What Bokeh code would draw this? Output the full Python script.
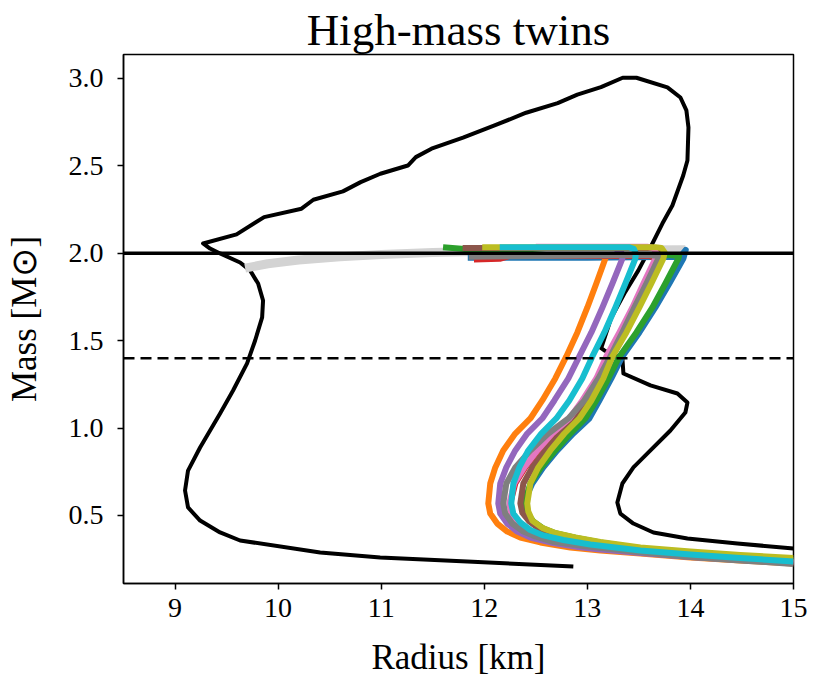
from bokeh.plotting import figure
from bokeh.models import Span, Range1d, FixedTicker, PrintfTickFormatter
from bokeh.embed import file_html
from bokeh.resources import INLINE

# ---------------- data ----------------
x_ticks = [9, 10, 11, 12, 13, 14, 15]
y_ticks = [0.5, 1.0, 1.5, 2.0, 2.5, 3.0]
ref_masses = [2.0, 1.4]

contour_r = [12.864, 11.835, 10.990, 10.408, 9.631, 9.437, 9.243, 9.126, 9.097, 9.126,
             9.243, 9.340, 9.437, 9.563, 9.699, 9.777, 9.845, 9.854, 9.806, 9.728,
             9.631, 9.437, 9.340, 9.272, 9.597, 9.864, 10.227, 10.342, 10.629, 10.801,
             10.992, 11.259, 11.336, 11.488, 11.794, 12.100, 12.406, 12.712, 12.903, 13.132,
             13.343, 13.476, 13.777, 13.903, 13.961, 13.981, 13.971, 13.930, 13.825, 13.728,
             13.612, 13.495, 13.359, 13.233, 13.136, 13.097, 13.165, 13.340, 13.350, 13.612,
             13.874, 13.971, 13.951, 13.806, 13.583, 13.447, 13.340, 13.291, 13.320, 13.447,
             13.641, 13.971, 14.456, 15.0]
contour_m = [0.208, 0.237, 0.260, 0.288, 0.357, 0.403, 0.471, 0.546, 0.643, 0.757,
             0.889, 0.986, 1.083, 1.215, 1.370, 1.501, 1.633, 1.730, 1.827, 1.902,
             1.947, 1.999, 2.027, 2.056, 2.108, 2.207, 2.255, 2.306, 2.354, 2.407,
             2.455, 2.502, 2.550, 2.598, 2.661, 2.731, 2.804, 2.859, 2.907, 2.950,
             3.004, 3.004, 2.949, 2.891, 2.817, 2.720, 2.531, 2.445, 2.273, 2.170,
             2.033, 1.902, 1.770, 1.633, 1.461, 1.473, 1.444, 1.398, 1.312, 1.244,
             1.198, 1.146, 1.089, 0.986, 0.855, 0.775, 0.683, 0.574, 0.511, 0.454,
             0.403, 0.368, 0.340, 0.311]

gray_r = [9.68, 9.9, 10.2, 10.6, 11.0, 11.5, 12.0, 12.6, 13.2, 13.95]
gray_m = [1.915, 1.94, 1.962, 1.98, 1.993, 2.004, 2.011, 2.015, 2.018, 2.02]

blue_r = [15.000, 14.485, 14.000, 13.515, 13.126, 12.883, 12.689, 12.563, 12.466, 12.398, 12.379,
          12.466, 12.573, 12.709, 12.864, 13.019, 13.117, 13.233, 13.340, 13.505, 13.660, 13.796, 13.932,
          13.955, 13.90, 13.0, 12.6, 11.84]
blue_m = [0.246, 0.266, 0.286, 0.309, 0.343, 0.368, 0.394, 0.426, 0.466, 0.517, 0.569,
          0.683, 0.775, 0.872, 0.969, 1.055, 1.158, 1.284, 1.410, 1.547, 1.690, 1.827, 1.970,
          2.02, 1.98, 1.975, 1.975, 1.975]

orange_r = [15.000, 14.485, 14.000, 13.515, 13.126, 12.835, 12.544, 12.350, 12.223, 12.126, 12.058, 12.039,
            12.058, 12.107, 12.184, 12.301, 12.447, 12.563, 12.689, 12.796, 12.903, 13.000, 13.087, 13.175,
            13.19]
orange_m = [0.226, 0.243, 0.260, 0.283, 0.300, 0.317, 0.346, 0.374, 0.408, 0.454, 0.511, 0.569,
            0.683, 0.775, 0.872, 0.969, 1.055, 1.158, 1.284, 1.410, 1.547, 1.690, 1.827, 1.970,
            1.99]

green_r = [15.000, 14.485, 14.000, 13.515, 13.126, 12.893, 12.699, 12.573, 12.476, 12.408, 12.388,
           12.447, 12.553, 12.689, 12.835, 12.981, 13.087, 13.204, 13.311, 13.476, 13.631, 13.757, 13.883,
           13.89, 13.8, 12.6, 11.9, 11.6]
green_m = [0.249, 0.269, 0.289, 0.311, 0.346, 0.371, 0.397, 0.426, 0.466, 0.517, 0.569,
           0.683, 0.775, 0.872, 0.969, 1.055, 1.158, 1.284, 1.410, 1.547, 1.690, 1.827, 1.970,
           1.985, 1.99, 1.99, 2.02, 2.035]

red_r = [15.000, 14.485, 14.000, 13.515, 13.019, 12.757, 12.563, 12.437, 12.340, 12.272, 12.252,
         12.301, 12.398, 12.524, 12.670, 12.835, 12.961, 13.097, 13.194, 13.320, 13.447, 13.553, 13.670,
         13.6, 12.25, 12.15, 11.9]
red_m = [0.231, 0.251, 0.271, 0.294, 0.331, 0.357, 0.383, 0.414, 0.457, 0.511, 0.569,
         0.683, 0.775, 0.872, 0.969, 1.055, 1.158, 1.284, 1.410, 1.547, 1.690, 1.827, 1.970,
         1.985, 1.985, 1.968, 1.965]

purple_r = [15.000, 14.485, 14.000, 13.515, 13.126, 12.913, 12.641, 12.447, 12.320, 12.223, 12.155, 12.136,
            12.155, 12.214, 12.301, 12.417, 12.563, 12.680, 12.816, 12.922, 13.039, 13.146, 13.243, 13.340,
            13.33, 13.27, 13.2]
purple_m = [0.229, 0.246, 0.263, 0.286, 0.306, 0.320, 0.346, 0.374, 0.408, 0.454, 0.511, 0.569,
            0.683, 0.775, 0.872, 0.969, 1.055, 1.158, 1.284, 1.410, 1.547, 1.690, 1.827, 1.970,
            2.005, 2.028, 2.03]

brown_r = [15.000, 14.485, 14.000, 13.515, 13.107, 12.854, 12.660, 12.534, 12.437, 12.369, 12.350,
           12.379, 12.466, 12.592, 12.738, 12.893, 13.019, 13.146, 13.243, 13.369, 13.495, 13.612, 13.728,
           13.73, 13.70, 13.64, 11.79]
brown_m = [0.243, 0.263, 0.283, 0.306, 0.340, 0.366, 0.391, 0.423, 0.466, 0.517, 0.569,
           0.683, 0.775, 0.872, 0.969, 1.055, 1.158, 1.284, 1.410, 1.547, 1.690, 1.827, 1.970,
           2.0, 2.025, 2.03, 2.03]

pink_r = [15.000, 14.485, 14.000, 13.515, 13.010, 12.748, 12.553, 12.427, 12.330, 12.262, 12.243,
          12.291, 12.388, 12.515, 12.660, 12.825, 12.951, 13.087, 13.184, 13.311, 13.437, 13.544, 13.660,
          13.67, 13.64, 13.58, 12.5]
pink_m = [0.234, 0.254, 0.274, 0.297, 0.331, 0.357, 0.383, 0.414, 0.457, 0.511, 0.569,
          0.683, 0.775, 0.872, 0.969, 1.055, 1.158, 1.284, 1.410, 1.547, 1.690, 1.827, 1.970,
          2.0, 2.03, 2.037, 2.037]

grey_r = [15.000, 14.485, 14.000, 13.515, 12.961, 12.670, 12.495, 12.369, 12.272, 12.204, 12.184,
          12.214, 12.301, 12.447, 12.621, 12.816, 12.971, 13.107, 13.223, 13.340, 13.456, 13.573, 13.689,
          13.69, 13.6, 12.5, 11.85]
grey_m = [0.223, 0.243, 0.263, 0.289, 0.326, 0.349, 0.380, 0.412, 0.454, 0.511, 0.569,
          0.683, 0.775, 0.872, 0.969, 1.055, 1.158, 1.284, 1.410, 1.547, 1.690, 1.827, 1.970,
          1.985, 1.99, 1.985, 1.98]

olive_r = [15.000, 14.485, 14.000, 13.515, 13.126, 12.883, 12.689, 12.563, 12.466, 12.427, 12.417,
           12.447, 12.524, 12.641, 12.777, 12.922, 13.039, 13.155, 13.243, 13.379, 13.505, 13.621, 13.738,
           13.75, 13.72, 13.66, 11.98]
olive_m = [0.257, 0.274, 0.294, 0.317, 0.349, 0.374, 0.400, 0.429, 0.471, 0.523, 0.569,
           0.683, 0.775, 0.872, 0.969, 1.055, 1.158, 1.284, 1.410, 1.547, 1.690, 1.827, 1.970,
           2.005, 2.03, 2.035, 2.035]

cyan_r = [15.000, 14.485, 14.000, 13.515, 13.029, 12.767, 12.573, 12.447, 12.350, 12.282, 12.262,
          12.282, 12.340, 12.427, 12.553, 12.699, 12.825, 12.951, 13.049, 13.165, 13.272, 13.369, 13.466,
          13.47, 13.45, 13.40, 12.15]
cyan_m = [0.237, 0.257, 0.277, 0.300, 0.334, 0.360, 0.386, 0.417, 0.460, 0.511, 0.569,
          0.683, 0.775, 0.872, 0.969, 1.055, 1.158, 1.284, 1.410, 1.547, 1.690, 1.827, 1.970,
          2.0, 2.025, 2.035, 2.035]

curves = [
    (blue_r, blue_m, "#1f77b4"),
    (orange_r, orange_m, "#ff7f0e"),
    (green_r, green_m, "#2ca02c"),
    (red_r, red_m, "#d62728"),
    (purple_r, purple_m, "#9467bd"),
    (brown_r, brown_m, "#8c564b"),
    (pink_r, pink_m, "#e377c2"),
    (grey_r, grey_m, "#7f7f7f"),
    (olive_r, olive_m, "#bcbd22"),
    (cyan_r, cyan_m, "#17becf"),
]

FONT = "Liberation Serif"

p = figure(frame_width=670, frame_height=529,
           x_range=Range1d(8.5, 15.0), y_range=Range1d(0.111, 3.137),
           output_backend="svg", toolbar_location=None,
           min_border_left=123, min_border_right=27, min_border_top=54, min_border_bottom=102,
           title="High-mass twins")
p.background_fill_color = "white"
p.border_fill_color = "white"
p.grid.visible = False
p.outline_line_color = "black"
p.outline_line_width = 1.5

p.title.text_font = FONT
p.title.text_font_size = "45px"
p.title.text_font_style = "normal"
p.title.align = "center"
p.title.standoff = 0
p.title.text_color = "black"

p.xaxis.ticker = FixedTicker(ticks=x_ticks)
p.yaxis.ticker = FixedTicker(ticks=y_ticks)
p.yaxis.formatter = PrintfTickFormatter(format="%.1f")
p.xaxis.axis_label = "Radius [km]"
p.yaxis.axis_label = "Mass [M\u2299]"
for ax in (p.xaxis, p.yaxis):
    ax.axis_label_text_font = FONT
    ax.axis_label_text_font_size = "35px"
    ax.axis_label_text_font_style = "normal"
    ax.axis_label_text_color = "black"
    ax.major_label_text_font = FONT
    ax.major_label_text_font_size = "28px"
    ax.major_label_text_color = "black"
    ax.axis_line_color = "black"
    ax.axis_line_width = 1.5
    ax.major_tick_line_color = "black"
    ax.major_tick_line_width = 1.5
    ax.major_tick_out = 6
    ax.major_tick_in = 0
    ax.minor_tick_line_color = None
p.xaxis.major_label_standoff = 9
p.yaxis.major_label_standoff = 14
p.xaxis.axis_label_standoff = 18
p.yaxis.axis_label_standoff = 22

p.line(contour_r, contour_m, line_color="black", line_width=4, line_join="round")
p.line(gray_r, gray_m, line_color="#d3d3d3", line_width=9, line_join="round")
for r, m, c in curves:
    p.line(r, m, line_color=c, line_width=6, line_join="round")

p.add_layout(Span(location=ref_masses[0], dimension="width", line_color="black", line_width=3.5))
p.add_layout(Span(location=ref_masses[1], dimension="width", line_color="black", line_width=2.5,
                  line_dash="11 6"))

open("out.html", "w").write(file_html(p, INLINE))
